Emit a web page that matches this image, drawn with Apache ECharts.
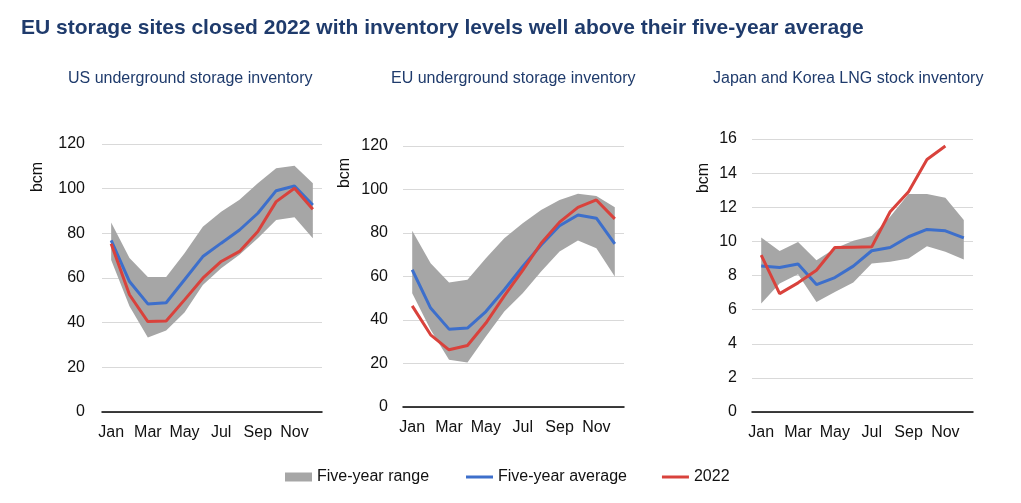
<!DOCTYPE html>
<html>
<head>
<meta charset="utf-8">
<script src="https://cdn.jsdelivr.net/npm/echarts@6/dist/echarts.min.js"></script>
<style>
html,body{margin:0;padding:0;background:#fff;}
#main{width:1021px;height:503px;}
</style>
</head>
<body>
<div id="main"></div>
<script>
var months = ['Jan','Feb','Mar','Apr','May','Jun','Jul','Aug','Sep','Oct','Nov','Dec'];

// US underground storage inventory (bcm)
var usLow  = [68.1, 47.3, 33.4, 36.5, 44.6, 56.9, 64.4, 70.4, 77.8, 86.0, 87.2, 77.8];
var usHigh = [84.8, 68.9, 60.4, 60.4, 71.1, 83.0, 89.7, 95.0, 102.4, 109.1, 110.3, 102.4];
var usAvg  = [76.8, 58.4, 48.4, 48.9, 59.2, 69.6, 75.6, 81.5, 89.0, 99.1, 101.2, 92.7];
var us2022 = [75.3, 52.5, 40.5, 40.7, 50.2, 59.9, 67.4, 71.9, 80.8, 94.2, 100.2, 90.8];

// EU underground storage inventory (bcm)
var euLow  = [52.3, 35.5, 21.7, 20.5, 32.4, 43.9, 52.3, 62.3, 71.5, 76.5, 73.0, 60.0];
var euHigh = [81.0, 66.1, 57.2, 58.5, 68.4, 77.6, 84.5, 90.6, 95.2, 98.0, 97.0, 91.8];
var euAvg  = [63.1, 45.5, 35.8, 36.3, 43.9, 53.9, 64.6, 74.5, 83.3, 88.3, 86.8, 75.0];
var eu2022 = [46.5, 33.2, 26.3, 28.3, 38.6, 51.1, 62.8, 75.3, 85.0, 91.8, 95.2, 86.5];

// Japan and Korea LNG stock inventory (bcm)
var jkLow  = [6.36, 7.53, 8.08, 6.44, 7.04, 7.59, 8.70, 8.80, 9.00, 9.72, 9.39, 8.94];
var jkHigh = [10.23, 9.43, 9.96, 8.90, 9.58, 10.03, 10.31, 11.44, 12.77, 12.77, 12.56, 11.25];
var jkAvg  = [8.55, 8.47, 8.67, 7.47, 7.88, 8.55, 9.45, 9.64, 10.27, 10.70, 10.62, 10.21];
var jk2022 = [9.19, 6.94, 7.57, 8.31, 9.64, 9.66, 9.68, 11.74, 12.91, 14.80, 15.59, null];

var usTicks = {min: 0, max: 120, interval: 20};
var euTicks = {min: 0, max: 120, interval: 20};
var jkTicks = {min: 0, max: 16, interval: 2};

var mainTitle = 'EU storage sites closed 2022 with inventory levels well above their five-year average';
var panelTitles = ['US underground storage inventory', 'EU underground storage inventory', 'Japan and Korea LNG stock inventory'];
var seriesNames = ['Five-year range', 'Five-year average', '2022'];
var unitLabel = 'bcm';

var FONT = 'Liberation Sans, Arial, Helvetica, sans-serif';
var NAVY = '#1f3b6c';
var GRAY = '#a6a6a6';
var BLUE = '#3d6fcb';
var RED = '#d9423c';

var panels = [
  {low: usLow, high: usHigh, avg: usAvg, cur: us2022, ticks: usTicks, grid: {left: 102, top: 144, width: 220, height: 268}, labelMargin: 17},
  {low: euLow, high: euHigh, avg: euAvg, cur: eu2022, ticks: euTicks, grid: {left: 403, top: 146, width: 221, height: 261}, labelMargin: 15},
  {low: jkLow, high: jkHigh, avg: jkAvg, cur: jk2022, ticks: jkTicks, grid: {left: 752, top: 139, width: 221, height: 273}, labelMargin: 15}
];

var grids = [], xAxes = [], yAxes = [], series = [];
panels.forEach(function (p, i) {
  grids.push(p.grid);
  xAxes.push({
    type: 'category', gridIndex: i, data: months, boundaryGap: true,
    axisLine: {show: true, lineStyle: {color: '#000', width: 1.5}},
    axisTick: {show: false},
    axisLabel: {interval: 1, color: '#111', fontSize: 16, fontFamily: FONT, margin: 13},
    splitLine: {show: false}
  });
  yAxes.push({
    type: 'value', gridIndex: i, min: p.ticks.min, max: p.ticks.max, interval: p.ticks.interval,
    axisLine: {show: false}, axisTick: {show: false},
    axisLabel: {color: '#111', fontSize: 16, fontFamily: FONT, margin: p.labelMargin},
    splitLine: {show: true, lineStyle: {color: '#d9d9d9', width: 1}}
  });
  var diff = p.high.map(function (h, k) { return +(h - p.low[k]).toFixed(2); });
  series.push({
    type: 'line', xAxisIndex: i, yAxisIndex: i, stack: 'band' + i, data: p.low,
    symbol: 'none', lineStyle: {opacity: 0, width: 0}, silent: true, z: 1
  });
  series.push({
    name: seriesNames[0], type: 'line', xAxisIndex: i, yAxisIndex: i, stack: 'band' + i, data: diff,
    symbol: 'none', lineStyle: {opacity: 0, width: 0}, itemStyle: {color: GRAY},
    areaStyle: {color: GRAY, opacity: 1}, silent: true, z: 1
  });
  series.push({
    name: seriesNames[1], type: 'line', xAxisIndex: i, yAxisIndex: i, data: p.avg,
    symbol: 'none', lineStyle: {color: BLUE, width: 3}, itemStyle: {color: BLUE}, z: 3
  });
  series.push({
    name: seriesNames[2], type: 'line', xAxisIndex: i, yAxisIndex: i, data: p.cur,
    symbol: 'none', lineStyle: {color: RED, width: 3}, itemStyle: {color: RED}, z: 4
  });
});

var legendText = {color: '#111', fontSize: 16, fontFamily: FONT};

var option = {
  backgroundColor: '#fff',
  animation: false,
  title: [
    {text: mainTitle, left: 16, top: 13, textStyle: {color: NAVY, fontSize: 21, fontWeight: 'bold', fontFamily: FONT}},
    {text: panelTitles[0], left: 63, top: 66, textStyle: {color: NAVY, fontSize: 16, fontWeight: 'normal', fontFamily: FONT}},
    {text: panelTitles[1], left: 386, top: 66, textStyle: {color: NAVY, fontSize: 16, fontWeight: 'normal', fontFamily: FONT}},
    {text: panelTitles[2], left: 708, top: 66, textStyle: {color: NAVY, fontSize: 16, fontWeight: 'normal', fontFamily: FONT}}
  ],
  legend: [
    {
      left: 285, top: 469, padding: 0, itemWidth: 27, itemHeight: 9,
      textStyle: legendText,
      data: [{name: seriesNames[0], icon: 'rect', itemStyle: {color: GRAY}}]
    },
    {
      left: 466, top: 469, padding: 0, itemWidth: 27, itemHeight: 3, itemGap: 35,
      textStyle: legendText,
      data: [
        {name: seriesNames[1], icon: 'rect', itemStyle: {color: BLUE}},
        {name: seriesNames[2], icon: 'rect', itemStyle: {color: RED}}
      ]
    }
  ],
  graphic: [
    {type: 'text', x: 38, y: 177, rotation: Math.PI / 2, style: {text: unitLabel, font: '16px ' + FONT, fill: '#111', textAlign: 'center', textVerticalAlign: 'middle'}},
    {type: 'text', x: 345, y: 173, rotation: Math.PI / 2, style: {text: unitLabel, font: '16px ' + FONT, fill: '#111', textAlign: 'center', textVerticalAlign: 'middle'}},
    {type: 'text', x: 704, y: 178, rotation: Math.PI / 2, style: {text: unitLabel, font: '16px ' + FONT, fill: '#111', textAlign: 'center', textVerticalAlign: 'middle'}}
  ],
  grid: grids,
  xAxis: xAxes,
  yAxis: yAxes,
  series: series
};

var chart = echarts.init(document.getElementById('main'), null, {renderer: 'canvas'});
chart.setOption(option);
</script>
</body>
</html>
